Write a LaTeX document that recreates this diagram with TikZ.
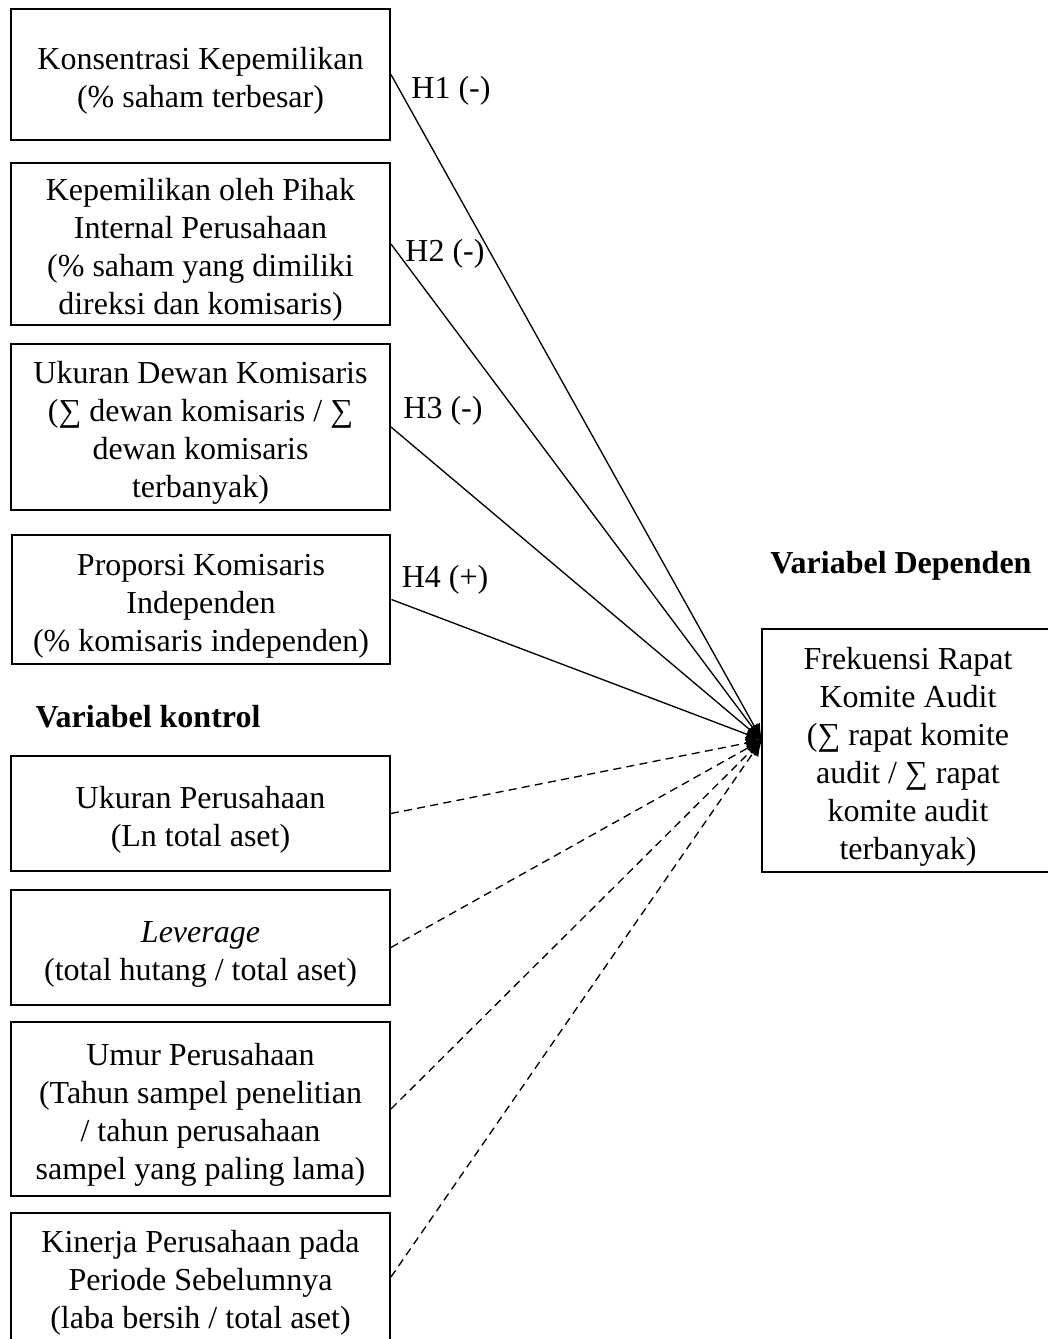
\documentclass[tikz,border=0pt]{standalone}
\usepackage{fontspec}
\setmainfont{Liberation Serif}
\usetikzlibrary{arrows.meta}
\newcommand{\toprule}{\rule{0pt}{13pt}}
\begin{document}
\begin{tikzpicture}[x=0.375pt,y=-0.375pt]
		\tikzstyle{box}=[draw,line width=0.75pt,inner sep=0pt,align=center,minimum width=142.1pt,font=\fontsize{12}{14.25}\selectfont]
		\tikzstyle{hyp}=[inner sep=0pt,font=\fontsize{12}{14.25}\selectfont]
		\tikzstyle{edge} = [draw,line width=0.5pt,-{Latex[length=6pt,width=5pt]},black]
		\tikzstyle{ctrl} = [edge,dash pattern=on 3pt off 2pt]
		
		\useasboundingbox (0,0) rectangle (1048,1339);
		\clip (0,0) rectangle (1048,1339);
		
		% variabel independen
		\node[box,minimum height=49.1pt] (b1) at (200.5,74.5) {\toprule Konsentrasi Kepemilikan\\(\% saham terbesar)};
		\node[box,minimum height=60.75pt] (b2) at (200.5,244) {\toprule Kepemilikan oleh Pihak\\Internal Perusahaan\\(\% saham yang dimiliki\\direksi dan komisaris)};
		\node[box,minimum height=62.25pt] (b3) at (200.5,427) {\toprule Ukuran Dewan Komisaris\\(∑ dewan komisaris / ∑\\dewan komisaris\\terbanyak)};
		\node[box,minimum height=48.4pt] (b4) at (201,599.5) {\toprule Proporsi Komisaris\\Independen\\(\% komisaris independen)};
		
		% variabel kontrol
		\node[hyp,font=\fontsize{12}{14.25}\selectfont\bfseries,anchor=west] (kontrol) at (35,717) {Variabel kontrol};
		\node[box,minimum height=43.1pt] (b5) at (200.5,813.5) {\toprule Ukuran Perusahaan\\(Ln total aset)};
		\node[box,minimum height=43.1pt] (b6) at (200.5,947.5) {\toprule\textit{Leverage}\\(total hutang / total aset)};
		\node[box,minimum height=65.25pt] (b7) at (200.5,1109) {\toprule Umur Perusahaan\\(Tahun sampel penelitian\\/ tahun perusahaan\\sampel yang paling lama)};
		\node[box,minimum height=48pt] (b8) at (200.5,1277) {\toprule Kinerja Perusahaan pada\\Periode Sebelumnya\\(laba bersih / total aset)};
		
		% variabel dependen
		\node[hyp,font=\fontsize{12}{14.25}\selectfont\bfseries] (deplabel) at (901,566) {Variabel Dependen};
		\node[box,minimum width=109.5pt,minimum height=91.1pt] (dep) at (908,750.5) {\toprule Frekuensi Rapat\\Komite Audit\\(∑ rapat komite\\audit / ∑ rapat\\komite audit\\terbanyak)};
		\coordinate (tip) at (762,740);
		
		\node[hyp] (h1) at (451,91) {H1 (-)};
		\node[hyp] (h2) at (445,254) {H2 (-)};
		\node[hyp] (h3) at (443,411) {H3 (-)};
		\node[hyp] (h4) at (445,580) {H4 (+)};
		
		\draw[edge] (b1.east) -- (tip);
		\draw[edge] (b2.east) -- (tip);
		\draw[edge] (b3.east) -- (tip);
		\draw[edge] (b4.east) -- (tip);
		
		\draw[ctrl] (b5.east) -- (tip);
		\draw[ctrl] (b6.east) -- (tip);
		\draw[ctrl] (b7.east) -- (tip);
		\draw[ctrl] (b8.east) -- (tip);
		\end{tikzpicture}
\end{document}
